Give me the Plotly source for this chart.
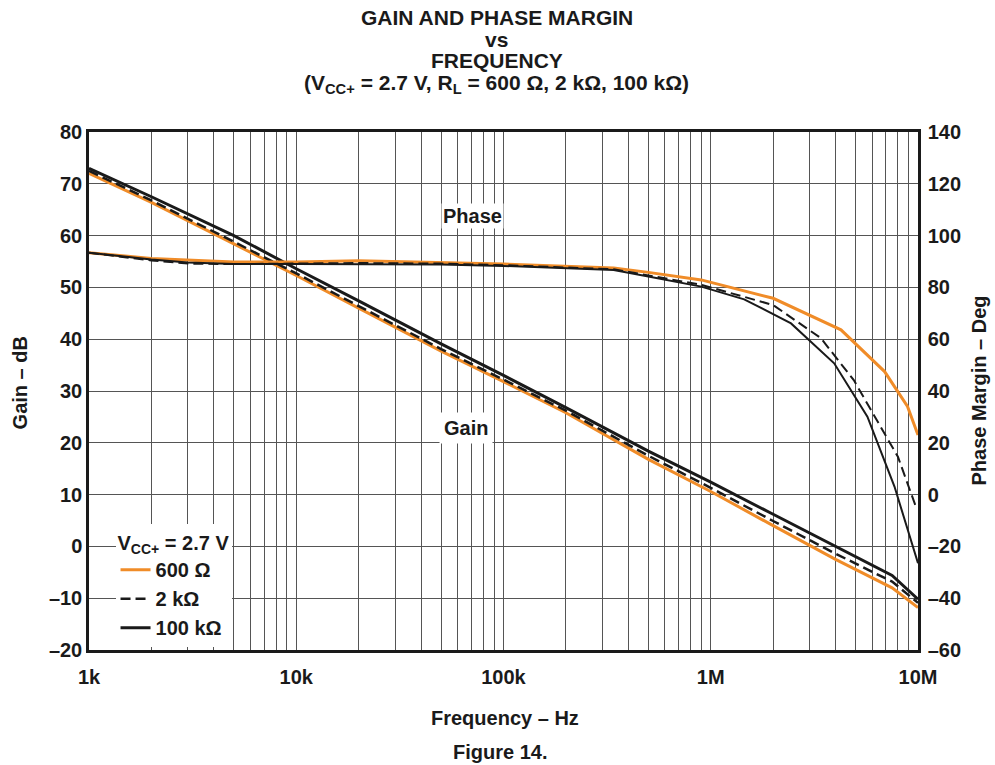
import plotly.graph_objects as go

# ---------------- data ----------------
freq_gain = [1e3, 2e3, 5e3, 1e4, 2e4, 5e4, 1e5, 2e5, 5e5, 1e6, 2e6, 4e6, 7.5e6, 1e7]
gain_600 = [72.0, 66.4, 58.4, 52.3, 46.0, 37.7, 31.8, 25.8, 16.8, 10.6, 4.0, -2.5, -8.0, -11.8]
gain_2k = [72.5, 66.8, 58.8, 52.7, 46.4, 38.1, 32.2, 26.2, 17.5, 11.3, 4.9, -1.4, -6.8, -10.9]
gain_100k = [73.0, 67.5, 60.0, 53.6, 47.4, 39.1, 33.0, 26.8, 18.4, 12.4, 6.2, 0.0, -5.6, -10.2]

freq_phase_600 = [1e3, 2e3, 5e3, 1e4, 2e4, 5e4, 1e5, 3.4e5, 5e5, 9e5, 2e6, 4.25e6, 6.9e6, 8.9e6, 1e7]
phase_600 = [93.4, 91.2, 89.8, 89.8, 90.3, 89.7, 89.0, 87.5, 85.8, 82.9, 75.8, 63.6, 47.5, 34.0, 23.0]

freq_phase_2k = [1e3, 2e3, 3e3, 5e3, 1e4, 2e4, 5e4, 1e5, 3.4e5, 5e5, 9e5, 2e6, 3.4e6, 4.9e6, 8e6, 9.7e6]
phase_2k = [93.4, 90.4, 89.2, 89.0, 89.2, 89.4, 89.2, 88.6, 87.0, 84.6, 81.0, 73.2, 60.4, 44.2, 14.6, -4.0]

freq_phase_100k = [1e3, 2e3, 3e3, 5e3, 1e4, 2e4, 5e4, 1e5, 3.4e5, 5e5, 9e5, 1.45e6, 2.44e6, 3.94e6, 5.7e6, 7.7e6, 1e7]
phase_100k = [93.4, 90.8, 89.6, 89.0, 89.0, 89.0, 88.8, 88.3, 86.7, 84.2, 80.3, 75.4, 66.1, 50.7, 30.1, 3.1, -26.5]

series_names = ["600 \u03a9", "2 k\u03a9", "100 k\u03a9"]

x_grid_vals = [m * 10 ** e for e in range(3, 7) for m in range(1, 10)] + [1e7]
x_tick_labels = {1e3: "1k", 1e4: "10k", 1e5: "100k", 1e6: "1M", 1e7: "10M"}

gain_ticks = [80, 70, 60, 50, 40, 30, 20, 10, 0, -10, -20]
gain_tick_text = ["80", "70", "60", "50", "40", "30", "20", "10", "0", "\u201310", "\u201320"]
phase_ticks = [140, 120, 100, 80, 60, 40, 20, 0, -20, -40, -60]
phase_tick_text = ["140", "120", "100", "80", "60", "40", "20", "0", "\u201320", "\u201340", "\u201360"]

# ---------------- styling ----------------
ORANGE = "#F08C28"
FONT = "Liberation Sans, Arial, Helvetica, sans-serif"
FS = 20
GRID = "#555555"

fig = go.Figure()

# gain traces
fig.add_trace(go.Scatter(x=freq_gain, y=gain_600, mode="lines", name=series_names[0],
                         legendgroup="600", line=dict(color=ORANGE, width=3)))
fig.add_trace(go.Scatter(x=freq_gain, y=gain_2k, mode="lines", name=series_names[1],
                         legendgroup="2k", line=dict(color="#1a1a1a", width=2.5, dash="10px,5px")))
fig.add_trace(go.Scatter(x=freq_gain, y=gain_100k, mode="lines", name=series_names[2],
                         legendgroup="100k", line=dict(color="#1a1a1a", width=3)))

# phase traces
fig.add_trace(go.Scatter(x=freq_phase_600, y=phase_600, mode="lines", yaxis="y2",
                         legendgroup="600", showlegend=False, line=dict(color=ORANGE, width=3)))
fig.add_trace(go.Scatter(x=freq_phase_2k, y=phase_2k, mode="lines", yaxis="y2",
                         legendgroup="2k", showlegend=False,
                         line=dict(color="#1a1a1a", width=2, dash="10px,5px")))
fig.add_trace(go.Scatter(x=freq_phase_100k, y=phase_100k, mode="lines", yaxis="y2",
                         legendgroup="100k", showlegend=False, line=dict(color="#1a1a1a", width=2)))

axis_font = dict(family=FONT, size=FS, color="#1a1a1a", weight="bold")

fig.update_layout(
    width=995, height=765,
    margin=dict(l=89, r=77, t=132, b=115),
    paper_bgcolor="white", plot_bgcolor="white",
    font=dict(family=FONT, size=FS, color="#1a1a1a", weight="bold"),
    xaxis=dict(type="log", range=[3, 7],
               tickvals=x_grid_vals,
               ticktext=[x_tick_labels.get(v, "") for v in x_grid_vals],
               showgrid=True, gridcolor=GRID, gridwidth=1,
               showline=True, linecolor="#1a1a1a", linewidth=2.5, mirror=True,
               ticks="", zeroline=False, tickfont=axis_font, ticklabelstandoff=7),
    yaxis=dict(range=[-20, 80], tickvals=gain_ticks, ticktext=gain_tick_text,
               showgrid=True, gridcolor=GRID, gridwidth=1,
               showline=True, linecolor="#1a1a1a", linewidth=2.5, mirror=True,
               ticks="", zeroline=False, tickfont=axis_font, ticklabelstandoff=0),
    yaxis2=dict(range=[-60, 140], tickvals=phase_ticks, ticktext=phase_tick_text,
                overlaying="y", side="right", showgrid=False,
                showline=True, linecolor="#1a1a1a", linewidth=2.5,
                ticks="", zeroline=False, tickfont=axis_font, ticklabelstandoff=3),
    legend=dict(x=0.032, y=0.243, xanchor="left", yanchor="top",
                bgcolor="white", borderwidth=0,
                title=dict(text="V<sub>CC+</sub> = 2.7 V", font=dict(family=FONT, size=FS, weight="bold")),
                font=dict(family=FONT, size=FS, weight="bold"),
                tracegroupgap=0),
    showlegend=True,
)

title_lines = [
    ("GAIN AND PHASE MARGIN", 1.222),
    ("vs", 1.1795),
    ("FREQUENCY", 1.1371),
    ("(V<sub>CC+</sub> = 2.7 V, R<sub>L</sub> = 600 \u03a9, 2 k\u03a9, 100 k\u03a9)", 1.0927),
]
for txt, yy in title_lines:
    fig.add_annotation(text=txt, xref="paper", yref="paper", x=0.492, y=yy,
                       xanchor="center", yanchor="middle", showarrow=False,
                       font=dict(family=FONT, size=21, weight="bold"))

fig.add_annotation(text="Frequency \u2013 Hz", xref="paper", yref="paper", x=0.502, y=-0.131,
                   xanchor="center", yanchor="middle", showarrow=False,
                   font=dict(family=FONT, size=FS, weight="bold"))
fig.add_annotation(text="Figure 14.", xref="paper", yref="paper", x=0.496, y=-0.197,
                   xanchor="center", yanchor="middle", showarrow=False,
                   font=dict(family=FONT, size=FS, weight="bold"))
fig.add_annotation(text="Gain \u2013 dB", xref="paper", yref="paper", x=-0.083, y=0.515,
                   xanchor="center", yanchor="middle", showarrow=False, textangle=-90,
                   font=dict(family=FONT, size=FS, weight="bold"))
fig.add_annotation(text="Phase Margin \u2013 Deg", xref="paper", yref="paper", x=1.073, y=0.50,
                   xanchor="center", yanchor="middle", showarrow=False, textangle=-90,
                   font=dict(family=FONT, size=FS, weight="bold"))

# curve labels
fig.add_annotation(text="Phase", x=4.848, y=63.8, xref="x", yref="y", showarrow=False,
                   bgcolor="white", borderpad=1,
                   font=dict(family=FONT, size=FS, weight="bold"))
fig.add_annotation(text="Gain", x=4.82, y=22.9, xref="x", yref="y", showarrow=False,
                   bgcolor="white", borderpad=4,
                   font=dict(family=FONT, size=FS, weight="bold"))

# remove the browser's default 8px page margin so the figure sits at the window origin
fig.write_html("out.html", config={"displayModeBar": False},
               post_script="document.body.style.margin='0px';")
